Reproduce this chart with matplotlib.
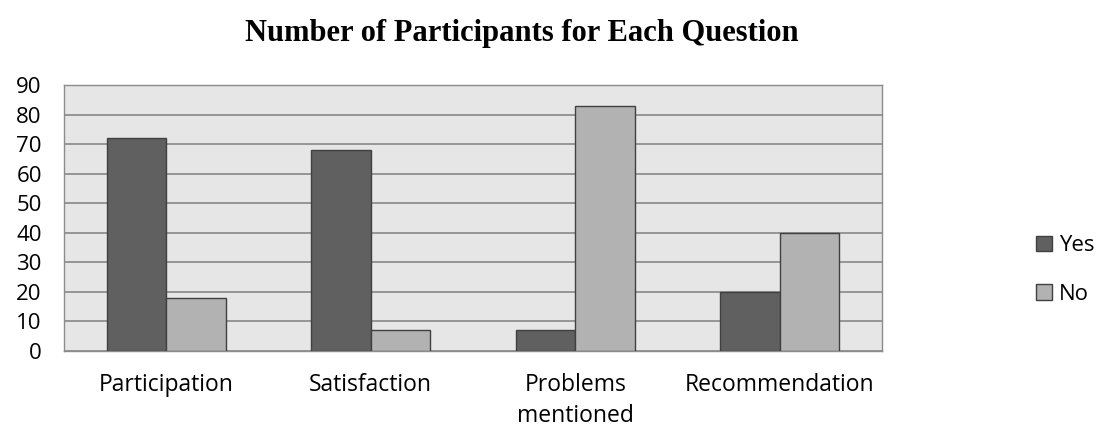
import matplotlib
matplotlib.use("Agg")
import matplotlib.pyplot as plt
import numpy as np

categories = ["Participation", "Satisfaction", "Problems\nmentioned", "Recommendation"]
yes_values = [72, 68, 7, 20]
no_values = [18, 7, 83, 40]
series_names = ["Yes", "No"]
title = "Number of Participants for Each Question"

fig = plt.figure(figsize=(10.96, 4.29), dpi=100)
ax = fig.add_axes([64/1096, 1-351/429, (882-64)/1096, (351-85)/429])

x = np.arange(len(categories))
w = 0.29
ax.bar(x - w/2, yes_values, w, color="#606060", edgecolor="#404040", linewidth=1, label=series_names[0], zorder=3)
ax.bar(x + w/2, no_values, w, color="#b2b2b2", edgecolor="#404040", linewidth=1, label=series_names[1], zorder=3)

ax.set_facecolor("#e6e6e6")
ax.set_xlim(-0.5, len(categories) - 0.5)
ax.set_ylim(0, 90)
ax.set_yticks(range(0, 91, 10))
ax.yaxis.grid(True, color="#888888", linewidth=1.2, zorder=1)
ax.set_axisbelow(True)
for s in ax.spines.values():
    s.set_color("#8c8c8c")
    s.set_linewidth(1)
ax.tick_params(axis="both", length=0)
ax.tick_params(axis="y", labelsize=16, pad=16)
ax.tick_params(axis="x", labelsize=16.5, pad=16)
ax.set_xticks(x)
ax.set_xticklabels(categories, fontfamily="Open Sans", linespacing=1.4)
for lab in ax.get_yticklabels():
    lab.set_fontfamily("Open Sans")

fig.text(522/1096, 1-33/429, title, ha="center", va="center",
         fontsize=22, fontweight="bold", fontfamily="Liberation Serif")

leg = fig.legend(loc="center left", bbox_to_anchor=(1016/1096, 1-270/429), frameon=False,
                 prop={"family": "Open Sans", "size": 16}, handlelength=0.7, handleheight=0.7,
                 handletextpad=0.35, labelspacing=1.25)

fig.savefig("out.png", dpi=100)
